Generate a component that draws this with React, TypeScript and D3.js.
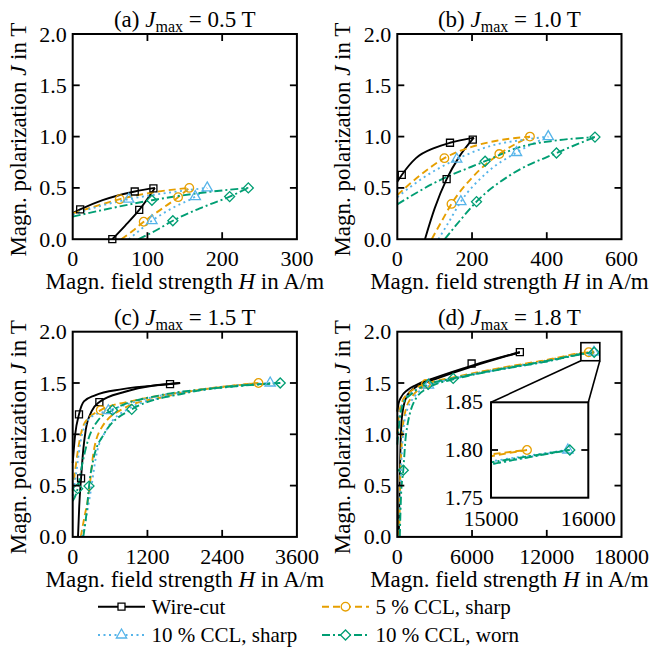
import React from "react";
import * as d3 from "d3";

type P = [number, number];

// ---------- series meta ----------
const seriesNames = ["Wire-cut", "5 % CCL, sharp", "10 % CCL, sharp", "10 % CCL, worn"];
const seriesColors = ["#000000", "#E69F00", "#56B4E9", "#009E73"];
const seriesDash = ["", "7,4", "2,3.5", "8,3,2,3"];
const seriesMarkers = ["square", "circle", "triangle", "diamond"];

// ---------- panel meta ----------
const panelLetters = ["(a)", "(b)", "(c)", "(d)"];
const panelJmax = ["0.5", "1.0", "1.5", "1.8"];
const xDomainMax = [300, 600, 3600, 18000];
const xTicksA = [0, 100, 200, 300];
const xTicksB = [0, 200, 400, 600];
const xTicksC = [0, 1200, 2400, 3600];
const xTicksD = [0, 6000, 12000, 18000];
const yTicks = [0, 0.5, 1.0, 1.5, 2.0];
const insetXDomain = [15000, 16000];
const insetYDomain = [1.75, 1.85];
const insetXTicks = [15000, 16000];
const insetYTicks = [1.75, 1.8, 1.85];
const zoomBoxH = [14740, 16260];
const zoomBoxJ = [1.717, 1.893];

// ---------- panel (a) Jmax = 0.5 T ----------
const aWireUp: P[] = [[0, 0.255], [10, 0.29], [40, 0.38], [83, 0.465], [110, 0.5]];
const aWireLo: P[] = [[53, 0], [70, 0.13], [89, 0.285], [110, 0.5]];
const aWireMk: P[] = [[10, 0.29], [83, 0.465], [108, 0.495], [89, 0.285], [53, 0]];
const aC5Up: P[] = [[0, 0.25], [30, 0.32], [63, 0.39], [111, 0.46], [156, 0.5]];
const aC5Lo: P[] = [[65, 0], [80, 0.08], [95, 0.17], [120, 0.3], [141, 0.41], [156, 0.5]];
const aC5Mk: P[] = [[63, 0.39], [95, 0.17], [141, 0.41], [156, 0.5]];
const aC10Up: P[] = [[0, 0.24], [35, 0.32], [75, 0.39], [130, 0.455], [180, 0.5]];
const aC10Lo: P[] = [[75, 0], [90, 0.09], [106, 0.18], [135, 0.31], [164, 0.415], [180, 0.5]];
const aC10Mk: P[] = [[75, 0.39], [106, 0.18], [164, 0.415], [180, 0.5]];
const aWornUp: P[] = [[0, 0.22], [50, 0.3], [106, 0.38], [170, 0.45], [235, 0.5]];
const aWornLo: P[] = [[88, 0], [110, 0.08], [134, 0.18], [170, 0.3], [210, 0.415], [235, 0.5]];
const aWornMk: P[] = [[106, 0.38], [134, 0.18], [210, 0.415], [235, 0.5]];

// ---------- panel (b) Jmax = 1.0 T ----------
const bWireUp: P[] = [[0, 0.56], [12, 0.626], [50, 0.79], [100, 0.89], [141, 0.94], [205, 0.99]];
const bWireLo: P[] = [[74, 0], [100, 0.3], [132, 0.585], [165, 0.8], [205, 0.99]];
const bWireMk: P[] = [[12, 0.626], [141, 0.94], [202, 0.97], [132, 0.585]];
const bC5Up: P[] = [[0, 0.43], [60, 0.62], [126, 0.79], [199, 0.9], [266, 0.96], [355, 1.0]];
const bC5Lo: P[] = [[92, 0], [115, 0.15], [145, 0.344], [200, 0.6], [273, 0.83], [355, 1.0]];
const bC5Mk: P[] = [[126, 0.79], [145, 0.344], [273, 0.83], [355, 1.0]];
const bC10Up: P[] = [[0, 0.41], [70, 0.6], [159, 0.78], [266, 0.925], [330, 0.965], [404, 1.0]];
const bC10Lo: P[] = [[110, 0], [135, 0.15], [170, 0.366], [240, 0.65], [319, 0.845], [404, 1.0]];
const bC10Mk: P[] = [[159, 0.78], [170, 0.366], [319, 0.845], [404, 1.0]];
const bWornUp: P[] = [[0, 0.34], [100, 0.55], [235, 0.76], [330, 0.9], [420, 0.96], [529, 0.995]];
const bWornLo: P[] = [[127, 0], [165, 0.17], [212, 0.366], [300, 0.62], [426, 0.84], [529, 0.995]];
const bWornMk: P[] = [[235, 0.76], [212, 0.366], [426, 0.84], [529, 0.995]];

// ---------- panel (c) Jmax = 1.5 T ----------
const cWireUp: P[] = [[0, 0.72], [40, 1.0], [101, 1.194], [180, 1.32], [358, 1.38], [800, 1.44], [1563, 1.49], [1725, 1.5]];
const cWireLo: P[] = [[85, 0], [105, 0.3], [134, 0.57], [170, 0.85], [209, 1.04], [300, 1.22], [428, 1.314], [841, 1.415], [1725, 1.5]];
const cWireMk: P[] = [[101, 1.194], [428, 1.314], [1563, 1.49], [134, 0.57]];
const cC5Up: P[] = [[0, 0.45], [40, 0.65], [117, 0.96], [200, 1.12], [450, 1.236], [1000, 1.33], [2000, 1.43], [2983, 1.5]];
const cC5Lo: P[] = [[130, 0], [190, 0.2], [251, 0.39], [331, 0.81], [450, 1.05], [813, 1.25], [1500, 1.37], [2983, 1.5]];
const cC5Mk: P[] = [[450, 1.236], [2983, 1.5]];
const cC10Up: P[] = [[0, 0.4], [50, 0.6], [150, 1.0], [300, 1.17], [572, 1.23], [1200, 1.35], [2200, 1.44], [3171, 1.5]];
const cC10Lo: P[] = [[150, 0], [220, 0.2], [290, 0.45], [380, 0.8], [550, 1.05], [900, 1.25], [1600, 1.38], [3171, 1.5]];
const cC10Mk: P[] = [[572, 1.23], [3171, 1.5]];
const cWornUp: P[] = [[0, 0.35], [80, 0.47], [150, 0.7], [250, 0.95], [400, 1.13], [640, 1.235], [1400, 1.38], [2300, 1.45], [3332, 1.5]];
const cWornLo: P[] = [[170, 0], [225, 0.25], [262, 0.495], [330, 0.75], [500, 1.0], [948, 1.243], [1800, 1.4], [3332, 1.5]];
const cWornMk: P[] = [[80, 0.47], [262, 0.495], [640, 1.235], [948, 1.243], [3332, 1.5]];

// ---------- panel (d) Jmax = 1.8 T ----------
const dWireUp: P[] = [[0, 1.22], [100, 1.3], [300, 1.36], [800, 1.43], [1500, 1.48], [3000, 1.55], [6000, 1.67], [9840, 1.8]];
const dWireLo: P[] = [[120, 0], [180, 0.5], [260, 0.9], [400, 1.2], [800, 1.38], [1500, 1.46], [3000, 1.535], [6000, 1.66], [9840, 1.8]];
const dWireMk: P[] = [[5966, 1.69], [9840, 1.8]];
const dC5Up: P[] = [[0, 1.0], [150, 1.2], [400, 1.32], [1000, 1.41], [2300, 1.49], [4500, 1.555], [8000, 1.64], [12000, 1.725], [15000, 1.7955], [15370, 1.8]];
const dC5Lo: P[] = [[150, 0], [220, 0.5], [350, 0.9], [600, 1.2], [1200, 1.37], [2300, 1.47], [4500, 1.545], [8000, 1.635], [12000, 1.72], [15000, 1.7935], [15370, 1.8]];
const dC5Mk: P[] = [[2300, 1.49], [15370, 1.8]];
const dC10Up: P[] = [[0, 0.95], [200, 1.2], [500, 1.32], [1200, 1.41], [2500, 1.48], [4500, 1.545], [8000, 1.63], [12000, 1.715], [15000, 1.788], [15790, 1.8]];
const dC10Lo: P[] = [[180, 0], [260, 0.5], [400, 0.9], [700, 1.2], [1400, 1.37], [2500, 1.47], [4500, 1.54], [8000, 1.625], [12000, 1.71], [15000, 1.785], [15790, 1.8]];
const dC10Mk: P[] = [[2500, 1.48], [15790, 1.8]];
const dWornUp: P[] = [[0, 0.9], [200, 1.15], [480, 1.3], [1200, 1.4], [2487, 1.487], [4490, 1.545], [8000, 1.63], [12000, 1.715], [15000, 1.787], [15810, 1.8]];
const dWornLo: P[] = [[200, 0], [300, 0.4], [480, 0.65], [700, 1.0], [1500, 1.35], [2600, 1.46], [4500, 1.535], [8000, 1.625], [12000, 1.71], [15000, 1.785], [15810, 1.8]];
const dWornMk: P[] = [[480, 0.65], [2487, 1.487], [4490, 1.545], [15810, 1.8]];

type Curve = { up: P[]; lo: P[]; mk: P[] };

const panelCurves: Curve[][] = [
  [
    { up: aWireUp, lo: aWireLo, mk: aWireMk },
    { up: aC5Up, lo: aC5Lo, mk: aC5Mk },
    { up: aC10Up, lo: aC10Lo, mk: aC10Mk },
    { up: aWornUp, lo: aWornLo, mk: aWornMk },
  ],
  [
    { up: bWireUp, lo: bWireLo, mk: bWireMk },
    { up: bC5Up, lo: bC5Lo, mk: bC5Mk },
    { up: bC10Up, lo: bC10Lo, mk: bC10Mk },
    { up: bWornUp, lo: bWornLo, mk: bWornMk },
  ],
  [
    { up: cWireUp, lo: cWireLo, mk: cWireMk },
    { up: cC5Up, lo: cC5Lo, mk: cC5Mk },
    { up: cC10Up, lo: cC10Lo, mk: cC10Mk },
    { up: cWornUp, lo: cWornLo, mk: cWornMk },
  ],
  [
    { up: dWireUp, lo: dWireLo, mk: dWireMk },
    { up: dC5Up, lo: dC5Lo, mk: dC5Mk },
    { up: dC10Up, lo: dC10Lo, mk: dC10Mk },
    { up: dWornUp, lo: dWornLo, mk: dWornMk },
  ],
];
const panelXTicks = [xTicksA, xTicksB, xTicksC, xTicksD];

// ---------- layout ----------
const W = 651;
const H = 649;
const colLeft = [72.7, 397.3];
const rowTop = [34, 331.7];
const plotW = 224.2;
const plotH = 205.2;
const FONT = "Liberation Serif, Times New Roman, Tinos, DejaVu Serif, serif";
const FS = 22;
const FL = 23;
const TICK = 7;

const markerPath = (kind: string): string => {
  if (kind === "square") return d3.symbol(d3.symbolSquare, 49)() as string;
  if (kind === "circle") return d3.symbol(d3.symbolCircle, 58)() as string;
  if (kind === "triangle") return d3.symbol(d3.symbolTriangle, 46)() as string;
  return d3.symbol(d3.symbolSquare, 50)() as string;
};

const Marker = ({ kind, x, y, color }: { kind: string; x: number; y: number; color: string }) => (
  <path
    d={markerPath(kind)}
    transform={`translate(${x},${y})${kind === "diamond" ? " rotate(45)" : ""}`}
    fill="none"
    stroke={color}
    strokeWidth={1.3}
  />
);

const Txt = (props: any) => (
  <text {...props} style={{ fontFamily: FONT, fontSize: props.fontSize ?? FS }} />
);

const Curves = ({
  curves,
  x,
  y,
  clipId,
  filter,
}: {
  curves: Curve[];
  x: d3.ScaleLinear<number, number>;
  y: d3.ScaleLinear<number, number>;
  clipId?: string;
  filter?: (p: P) => boolean;
}) => {
  const line = d3
    .line<P>()
    .x((d) => x(d[0]))
    .y((d) => y(d[1]))
    .curve(d3.curveMonotoneX);
  return (
    <g clipPath={clipId ? `url(#${clipId})` : undefined}>
      {curves.map((c, i) => (
        <g key={i}>
          {[c.up, c.lo].map((br, j) => (
            <path
              key={j}
              d={line(br) as string}
              fill="none"
              stroke={seriesColors[i]}
              strokeWidth={1.9}
              strokeDasharray={seriesDash[i] || undefined}
            />
          ))}
        </g>
      ))}
      {curves.map((c, i) =>
        c.mk
          .filter((p) => (filter ? filter(p) : true))
          .map((p, k) => (
            <Marker key={`${i}-${k}`} kind={seriesMarkers[i]} x={x(p[0])} y={y(p[1])} color={seriesColors[i]} />
          ))
      )}
    </g>
  );
};

const Panel = ({ idx }: { idx: number }) => {
  const col = idx % 2;
  const row = Math.floor(idx / 2);
  const x0 = colLeft[col];
  const y0 = rowTop[row];
  const x = d3.scaleLinear().domain([0, xDomainMax[idx]]).range([x0, x0 + plotW]);
  const y = d3.scaleLinear().domain([0, 2]).range([y0 + plotH, y0]);
  const xt = panelXTicks[idx];
  const fmtY = d3.format(".1f");
  const cx = x0 + plotW / 2;
  const cy = y0 + plotH / 2;
  return (
    <g>
      <Curves curves={panelCurves[idx]} x={x} y={y} />
      <rect x={x0} y={y0} width={plotW} height={plotH} fill="none" stroke="#000" strokeWidth={2} />
      {yTicks.map((t) => (
        <g key={`y${t}`}>
          {t > 0 && t < 2 && (
            <>
              <line x1={x0} x2={x0 + TICK} y1={y(t)} y2={y(t)} stroke="#000" strokeWidth={1.8} />
              <line x1={x0 + plotW} x2={x0 + plotW - TICK} y1={y(t)} y2={y(t)} stroke="#000" strokeWidth={1.8} />
            </>
          )}
          <Txt x={x0 - 6} y={y(t) + 7.5} textAnchor="end">
            {fmtY(t)}
          </Txt>
        </g>
      ))}
      {xt.map((t, k) => (
        <g key={`x${t}`}>
          {k > 0 && k < xt.length - 1 && (
            <>
              <line x1={x(t)} x2={x(t)} y1={y0 + plotH} y2={y0 + plotH - TICK} stroke="#000" strokeWidth={1.8} />
              <line x1={x(t)} x2={x(t)} y1={y0} y2={y0 + TICK} stroke="#000" strokeWidth={1.8} />
            </>
          )}
          <Txt x={x(t)} y={y0 + plotH + 27} textAnchor="middle">
            {String(t)}
          </Txt>
        </g>
      ))}
      <Txt x={cx} y={y0 - 7} textAnchor="middle" fontSize={FL}>
        <tspan>{panelLetters[idx]} </tspan>
        <tspan fontStyle="italic">J</tspan>
        <tspan style={{ fontSize: 16 }} dy={5}>max</tspan>
        <tspan dy={-5}> = {panelJmax[idx]} T</tspan>
      </Txt>
      <Txt x={cx} y={y0 + plotH + 50} textAnchor="middle" fontSize={FL}>
        Magn. field strength <tspan fontStyle="italic">H</tspan> in A/m
      </Txt>
      <Txt transform={`translate(${x0 - 47},${cy + 3}) rotate(-90)`} textAnchor="middle" fontSize={FL}>
        Magn. polarization <tspan fontStyle="italic">J</tspan> in T
      </Txt>
      {idx === 3 && <Inset x={x} y={y} />}
    </g>
  );
};

const Inset = ({ x, y }: { x: d3.ScaleLinear<number, number>; y: d3.ScaleLinear<number, number> }) => {
  const ix0 = 491;
  const iy0 = 402.3;
  const iw = 97.3;
  const ih = 95.4;
  const xi = d3.scaleLinear().domain(insetXDomain).range([ix0, ix0 + iw]);
  const yi = d3.scaleLinear().domain(insetYDomain).range([iy0 + ih, iy0]);
  const bx0 = x(zoomBoxH[0]);
  const bx1 = x(zoomBoxH[1]);
  const by0 = y(zoomBoxJ[1]);
  const by1 = y(zoomBoxJ[0]);
  const fmt = d3.format(".2f");
  return (
    <g>
      <rect x={bx0} y={by0} width={bx1 - bx0} height={by1 - by0} fill="none" stroke="#000" strokeWidth={1.6} />
      <line x1={bx0} y1={by1} x2={ix0} y2={iy0} stroke="#000" strokeWidth={1.6} />
      <line x1={bx1} y1={by1} x2={ix0 + iw} y2={iy0} stroke="#000" strokeWidth={1.6} />
      <rect x={ix0} y={iy0} width={iw} height={ih} fill="#fff" />
      <defs>
        <clipPath id="insetClip">
          <rect x={ix0} y={iy0} width={iw} height={ih} />
        </clipPath>
      </defs>
      <Curves
        curves={panelCurves[3]}
        x={xi}
        y={yi}
        clipId="insetClip"
        filter={(p) => p[0] >= insetXDomain[0] && p[1] >= insetYDomain[0]}
      />
      <rect x={ix0} y={iy0} width={iw} height={ih} fill="none" stroke="#000" strokeWidth={2} />
      {insetYTicks.map((t, k) => (
        <g key={t}>
          {k > 0 && k < insetYTicks.length - 1 && (
            <>
              <line x1={ix0} x2={ix0 + TICK} y1={yi(t)} y2={yi(t)} stroke="#000" strokeWidth={1.8} />
              <line x1={ix0 + iw} x2={ix0 + iw - TICK} y1={yi(t)} y2={yi(t)} stroke="#000" strokeWidth={1.8} />
            </>
          )}
          <Txt x={ix0 - 8} y={yi(t) + 7} textAnchor="end">
            {fmt(t)}
          </Txt>
        </g>
      ))}
      {insetXTicks.map((t) => (
        <Txt key={t} x={xi(t)} y={iy0 + ih + 28} textAnchor="middle">
          {String(t)}
        </Txt>
      ))}
    </g>
  );
};

const Legend = () => {
  const rowsY = [606.7, 635];
  const colsX = [98, 322];
  const len = 47;
  return (
    <g>
      {seriesNames.map((name, i) => {
        const lx = colsX[i % 2];
        const ly = rowsY[Math.floor(i / 2)];
        return (
          <g key={name}>
            <line
              x1={lx}
              x2={lx + len}
              y1={ly}
              y2={ly}
              stroke={seriesColors[i]}
              strokeWidth={1.9}
              strokeDasharray={seriesDash[i] || undefined}
            />
            <path
              d={markerPath(seriesMarkers[i])}
              transform={`translate(${lx + len / 2},${ly})${seriesMarkers[i] === "diamond" ? " rotate(45)" : ""}`}
              fill="#fff"
              stroke={seriesColors[i]}
              strokeWidth={1.3}
            />
            <Txt x={lx + len + 6.5} y={ly + 7} fontSize={21}>
              {name}
            </Txt>
          </g>
        );
      })}
    </g>
  );
};

export default function App() {
  return (
    <svg
      width={W}
      height={H}
      viewBox={`0 0 ${W} ${H}`}
      style={{ position: "absolute", left: 0, top: 0, background: "#fff" }}
    >
      <rect width={W} height={H} fill="#fff" />
      {[0, 1, 2, 3].map((i) => (
        <Panel key={i} idx={i} />
      ))}
      <Legend />
    </svg>
  );
}
